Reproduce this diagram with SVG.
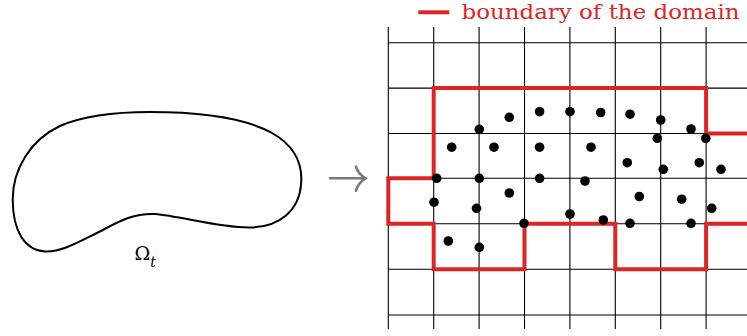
<svg xmlns="http://www.w3.org/2000/svg" width="747" height="336" viewBox="0 0 747 336">
<style>
.grid line{stroke:#000;stroke-width:1.1}
.bnd{fill:none;stroke:#dc2626;stroke-width:4;stroke-linejoin:miter}
.pt{fill:#000}
</style>
<rect width="747" height="336" fill="#fff"/>
<g id="domain">
<path d="M12.7,200 C12.5,170 30,140 60,126 C85,115 115,112 150,112 C200,112 245,118 272,133 C295,146 303,165 301,185 C299,210 280,227 250,227.5 C220,228 180,216 155,214 C130,213 115,224 95,234 C75,244 60,252 45,251.5 C25,250 13,232 12.7,200 Z" fill="none" stroke="#000" stroke-width="2"/>
<text x="134.5" y="260" font-family="DejaVu Serif, Liberation Serif, serif" font-size="19" fill="#000">Ω<tspan font-style="italic" font-size="14" dy="7">t</tspan></text>
</g>
<g id="connectors">
<path d="M330,178.3 H364.5 M356,166.7 Q358,174 365.5,178.3 Q358,183 356,190.7" fill="none" stroke="#7a7a7a" stroke-width="2.6" stroke-linecap="round"/>
</g>
<g id="grid" class="grid">
<line x1="388.3" y1="27" x2="388.3" y2="329"/>
<line x1="433.7" y1="27" x2="433.7" y2="329"/>
<line x1="479.1" y1="27" x2="479.1" y2="329"/>
<line x1="524.5" y1="27" x2="524.5" y2="329"/>
<line x1="569.9" y1="27" x2="569.9" y2="329"/>
<line x1="615.3" y1="27" x2="615.3" y2="329"/>
<line x1="660.7" y1="27" x2="660.7" y2="329"/>
<line x1="706.1" y1="27" x2="706.1" y2="329"/>
<line x1="388.3" y1="42.7" x2="747" y2="42.7"/>
<line x1="388.3" y1="88.1" x2="747" y2="88.1"/>
<line x1="388.3" y1="133.5" x2="747" y2="133.5"/>
<line x1="388.3" y1="178.3" x2="747" y2="178.3"/>
<line x1="388.3" y1="223.7" x2="747" y2="223.7"/>
<line x1="388.3" y1="269.3" x2="747" y2="269.3"/>
<line x1="388.3" y1="315" x2="747" y2="315"/>
</g>
<g id="boundary">
<path class="bnd" d="M433.7,178.3 V88.1 H706.1 V133.5 H749 M749,223.7 H706.1 V269.3 H615.3 V223.7 H524.5 V269.3 H433.7 V223.7 H388.3 V178.3 H433.7"/>
</g>
<g id="points" class="pt">
<circle cx="509.3" cy="117.3" r="4.8"/>
<circle cx="539.6" cy="111.7" r="4.8"/>
<circle cx="570" cy="111.7" r="4.8"/>
<circle cx="600.7" cy="112.5" r="4.8"/>
<circle cx="630" cy="114.2" r="4.8"/>
<circle cx="660.7" cy="120" r="4.8"/>
<circle cx="479.3" cy="129.3" r="4.8"/>
<circle cx="691" cy="129" r="4.8"/>
<circle cx="657.3" cy="138.3" r="4.8"/>
<circle cx="705.8" cy="138.3" r="4.8"/>
<circle cx="451.7" cy="147.2" r="4.8"/>
<circle cx="494" cy="147.2" r="4.8"/>
<circle cx="539.6" cy="147.2" r="4.8"/>
<circle cx="591" cy="147.2" r="4.8"/>
<circle cx="627.3" cy="162.7" r="4.8"/>
<circle cx="699.3" cy="162.7" r="4.8"/>
<circle cx="663.3" cy="169.3" r="4.8"/>
<circle cx="721" cy="169.3" r="4.8"/>
<circle cx="436.7" cy="178.3" r="4.8"/>
<circle cx="479.3" cy="178.3" r="4.8"/>
<circle cx="539.6" cy="178.3" r="4.8"/>
<circle cx="585" cy="181" r="4.8"/>
<circle cx="509.3" cy="193" r="4.8"/>
<circle cx="639.3" cy="196.5" r="4.8"/>
<circle cx="681.7" cy="199.2" r="4.8"/>
<circle cx="434" cy="202.2" r="4.8"/>
<circle cx="476.5" cy="208.3" r="4.8"/>
<circle cx="711.7" cy="208.3" r="4.8"/>
<circle cx="570" cy="214" r="4.8"/>
<circle cx="603.3" cy="220" r="4.8"/>
<circle cx="524" cy="223.3" r="4.8"/>
<circle cx="630" cy="223.3" r="4.8"/>
<circle cx="691" cy="223.3" r="4.8"/>
<circle cx="448.3" cy="241" r="4.8"/>
<circle cx="479.3" cy="247.3" r="4.8"/>
</g>
<g id="legend">
<line x1="418.3" y1="12.3" x2="449.3" y2="12.3" stroke="#dc2626" stroke-width="4"/>
<text x="461.5" y="18.5" font-family="DejaVu Serif, Liberation Serif, serif" font-size="21" fill="#dc2626" textLength="278" lengthAdjust="spacingAndGlyphs">boundary of the domain</text>
</g>
</svg>
